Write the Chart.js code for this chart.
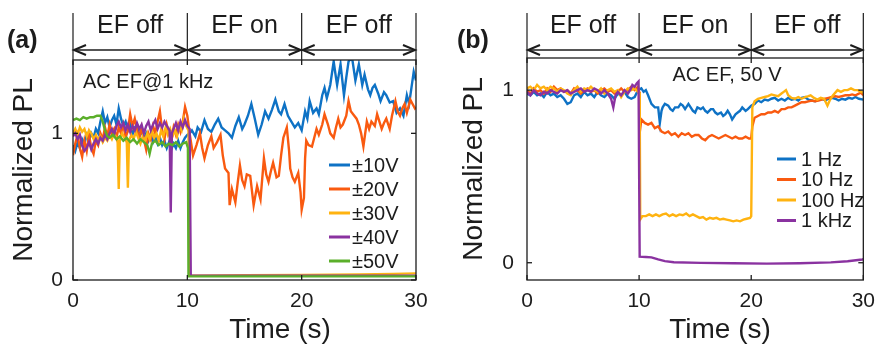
<!DOCTYPE html>
<html>
<head>
<meta charset="utf-8">
<script src="https://cdn.jsdelivr.net/npm/chart.js@4.4.1/dist/chart.umd.min.js"></script>
<style>
  html, body { margin: 0; padding: 0; background: #fff; }
  #wrap { position: relative; width: 884px; height: 350px; overflow: hidden; }
  canvas { position: absolute; top: 0; }
  #chartA { left: 0; }
  #chartB { left: 440px; }
</style>
</head>
<body>
<div id="wrap">
  <canvas id="chartA" width="440" height="350"></canvas>
  <canvas id="chartB" width="444" height="350"></canvas>
</div>
<script>
// shared axes
const timeTicks = [0, 10, 20, 30];
const plTicks = [0, 1];
const phaseLabels = ['EF off', 'EF on', 'EF off'];

// (a) AC field at 1 kHz, amplitude series — [time (s), normalized PL]
const labelsA = ['±10V', '±20V', '±30V', '±40V', '±50V'];
const pl10V = [
  [0,0.92],[0.2,0.88],[0.4,0.94],[0.6,0.9],[0.8,0.96],[1.0,0.93],[1.2,0.99],[1.4,0.95],[1.6,1.0],[1.8,0.97],
  [2.0,1.03],[2.2,1.0],[2.4,1.08],[2.6,1.15],[2.8,1.07],[3.0,1.11],[3.2,1.04],[3.4,1.09],[3.6,1.12],[3.8,1.06],
  [4.0,1.17],[4.2,1.1],[4.4,1.05],[4.6,1.08],[4.8,1.02],[5.0,1.06],[5.2,0.99],[5.4,1.04],[5.6,1.06],[5.8,0.98],
  [6.0,1.02],[6.2,0.96],[6.4,1.0],[6.6,0.95],[6.8,0.99],[7.0,0.94],[7.2,0.98],[7.4,0.93],[7.6,0.97],[7.8,0.92],
  [8.0,0.95],[8.2,0.9],[8.4,0.94],[8.6,0.89],[8.8,0.93],[9.0,0.9],[9.2,0.95],[9.4,0.9],[9.6,0.94],[9.8,0.97],
  [10.0,0.99],[10.2,1.0],[10.4,1.02],[10.7,0.98],[10.9,1.04],[11.2,1.01],[11.5,1.09],[11.8,1.03],[12.1,1.01],[12.4,1.06],
  [12.7,1.1],[13.0,1.04],[13.3,1.02],[13.6,1.0],[13.9,0.97],[14.2,1.05],[14.5,1.11],[14.8,1.03],[15.0,1.06],[15.3,1.12],
  [15.6,1.2],[15.9,1.1],[16.2,0.99],[16.5,1.06],[16.8,1.15],[17.1,1.1],[17.4,1.16],[17.7,1.23],[18.0,1.15],[18.2,1.13],
  [18.5,1.2],[18.8,1.12],[19.1,1.08],[19.4,1.04],[19.7,1.07],[20.0,1.02],[20.3,1.15],[20.5,1.1],[20.7,1.22],[21.0,1.14],
  [21.3,1.17],[21.5,1.13],[21.8,1.26],[22.0,1.31],[22.2,1.24],[22.5,1.33],[22.8,1.49],[23.0,1.38],[23.1,1.33],[23.4,1.47],
  [23.7,1.26],[23.9,1.38],[24.1,1.49],[24.4,1.52],[24.7,1.36],[25.0,1.47],[25.3,1.33],[25.5,1.4],[25.8,1.3],[26.0,1.26],
  [26.2,1.31],[26.4,1.33],[26.7,1.27],[26.9,1.22],[27.2,1.28],[27.4,1.26],[27.7,1.21],[28.0,1.22],[28.3,1.14],[28.6,1.17],
  [28.9,1.12],[29.2,1.26],[29.4,1.2],[29.6,1.31],[29.8,1.42],[30.0,1.36]
];
const pl20V = [
  [0,0.85],[0.2,0.93],[0.4,0.99],[0.6,0.9],[0.8,0.84],[1.0,0.95],[1.2,0.88],[1.4,0.99],[1.6,0.9],[1.8,0.86],
  [2.0,0.95],[2.2,0.92],[2.4,1.0],[2.6,0.96],[2.8,1.04],[3.0,0.98],[3.2,1.06],[3.4,1.0],[3.6,1.03],[3.8,0.97],
  [4.0,1.04],[4.2,1.0],[4.4,1.06],[4.6,0.97],[4.8,1.02],[5.0,1.13],[5.2,1.05],[5.4,1.1],[5.6,1.02],[5.8,0.97],
  [6.0,1.04],[6.2,0.96],[6.4,0.89],[6.6,1.0],[6.8,0.96],[7.0,1.05],[7.2,1.0],[7.4,1.08],[7.6,1.15],[7.8,1.02],
  [8.0,0.96],[8.2,1.06],[8.4,1.0],[8.6,0.95],[8.8,1.04],[9.0,0.99],[9.2,1.06],[9.4,1.01],[9.6,1.08],[9.8,1.18],
  [10.0,1.12],[10.2,1.0],[10.5,0.85],[10.8,0.92],[11.1,1.0],[11.3,0.9],[11.5,0.83],[11.8,0.92],[12.1,0.98],[12.3,0.9],
  [12.6,0.94],[12.9,0.99],[13.1,0.85],[13.3,0.76],[13.6,0.73],[13.7,0.51],[13.9,0.62],[14.2,0.53],[14.4,0.66],[14.6,0.78],
  [14.8,0.68],[15.0,0.64],[15.2,0.72],[15.5,0.71],[15.8,0.51],[16.1,0.64],[16.4,0.55],[16.7,0.83],[16.9,0.72],[17.1,0.67],
  [17.3,0.74],[17.5,0.8],[17.8,0.7],[18.0,0.71],[18.2,0.85],[18.4,0.97],[18.7,1.04],[18.9,0.88],[19.0,0.76],[19.2,0.7],
  [19.4,0.67],[19.7,0.73],[19.9,0.6],[20.0,0.48],[20.2,0.56],[20.3,0.83],[20.4,0.95],[20.6,0.92],[20.9,0.91],[21.1,0.97],
  [21.3,1.03],[21.5,0.99],[21.8,1.06],[22.0,1.13],[22.3,1.06],[22.5,1.0],[22.8,0.97],[23.0,1.04],[23.2,1.1],[23.4,1.04],
  [23.6,1.06],[23.9,1.12],[24.1,1.22],[24.3,1.15],[24.5,1.13],[24.8,1.1],[25.0,1.06],[25.2,1.0],[25.4,0.91],[25.7,1.08],
  [25.9,1.03],[26.1,1.08],[26.4,1.05],[26.6,1.13],[26.8,1.08],[27.0,1.03],[27.2,1.07],[27.4,1.1],[27.7,1.03],[27.9,1.12],
  [28.2,1.22],[28.4,1.15],[28.6,1.12],[28.8,1.17],[29.0,1.2],[29.2,1.14],[29.5,1.23],[29.7,1.2],[29.9,1.17],[30.0,1.18]
];
const pl30V = [
  [0,1.0],[0.2,1.03],[0.4,0.99],[0.6,1.04],[0.8,1.01],[1.0,1.03],[1.2,0.98],[1.4,1.02],[1.6,1.0],[1.8,0.96],
  [2.0,0.99],[2.2,0.95],[2.4,0.98],[2.6,0.94],[2.8,0.97],[3.0,0.95],[3.2,0.99],[3.4,0.96],[3.6,1.0],[3.8,0.97],
  [3.9,0.95],[4.0,0.62],[4.1,0.96],[4.3,1.0],[4.5,0.97],[4.7,0.95],[4.8,0.63],[4.9,0.95],[5.1,0.99],[5.3,0.96],
  [5.5,1.01],[5.7,0.97],[5.9,0.93],[6.1,0.98],[6.3,0.95],[6.5,1.0],[6.7,0.96],[6.9,1.02],[7.1,0.97],[7.3,1.0],
  [7.5,0.95],[7.7,1.02],[7.9,0.98],[8.1,1.04],[8.3,0.99],[8.5,1.03],[8.7,0.98],[8.9,1.02],[9.1,0.98],[9.3,1.05],
  [9.5,1.02],[9.7,1.1],[9.9,1.05],[10.1,1.02],[10.2,0.03],[15,0.032],[20,0.035],[25,0.038],[28,0.042],[30,0.045]
];
const pl40V = [
  [0,0.98],[0.2,1.0],[0.4,0.96],[0.6,0.99],[0.8,0.92],[1.0,0.88],[1.2,0.9],[1.4,0.94],[1.6,0.89],[1.8,0.93],
  [2.0,0.96],[2.2,0.93],[2.4,0.97],[2.6,0.95],[2.8,0.99],[3.0,0.96],[3.2,1.0],[3.4,1.03],[3.6,0.99],[3.8,1.05],
  [4.0,1.08],[4.2,1.04],[4.4,1.07],[4.6,1.02],[4.8,1.06],[5.0,1.01],[5.2,1.05],[5.4,1.02],[5.6,1.07],[5.8,1.03],
  [6.0,1.06],[6.2,1.0],[6.4,1.05],[6.6,1.08],[6.8,1.02],[7.0,1.06],[7.2,1.09],[7.4,1.03],[7.6,1.07],[7.8,1.04],
  [8.0,1.08],[8.2,1.05],[8.45,1.02],[8.55,0.46],[8.65,1.0],[8.8,1.03],[9.0,1.07],[9.2,1.02],[9.4,1.08],[9.6,1.04],
  [9.8,1.09],[10.0,1.05],[10.2,1.03],[10.3,0.03],[30,0.03]
];
const pl50V = [
  [0,1.09],[0.3,1.1],[0.6,1.09],[0.9,1.11],[1.2,1.1],[1.5,1.11],[1.8,1.11],[2.1,1.12],[2.4,1.12],[2.6,1.08],
  [2.8,1.02],[3.0,0.98],[3.2,0.97],[3.5,0.99],[3.8,0.96],[4.1,0.98],[4.4,0.95],[4.7,0.97],[5.0,0.94],[5.3,0.96],
  [5.6,0.93],[5.9,0.96],[6.2,0.94],[6.5,0.92],[6.7,0.86],[6.9,0.93],[7.2,0.95],[7.5,0.92],[7.8,0.94],[8.1,0.91],
  [8.4,0.93],[8.7,0.92],[9.0,0.94],[9.3,0.91],[9.6,0.93],[9.9,0.94],[10.05,0.9],[10.1,0.025],[30,0.025]
];

// (b) AC field at 50 V, frequency series — [time (s), normalized PL]
const labelsB = ['1 Hz', '10 Hz', '100 Hz', '1 kHz'];
const pl1Hz = [
  [0,0.98],[0.3,0.97],[0.6,0.99],[0.9,0.97],[1.2,0.98],[1.5,0.96],[1.8,0.99],[2.1,0.97],[2.4,0.98],[2.7,0.96],
  [3.0,0.97],[3.3,0.95],[3.6,0.92],[3.9,0.93],[4.2,0.97],[4.5,0.98],[4.8,0.96],[5.1,0.99],[5.4,0.97],[5.7,0.98],
  [6.0,0.96],[6.3,0.99],[6.6,0.97],[6.9,0.96],[7.2,0.98],[7.5,0.97],[7.8,0.95],[8.1,0.98],[8.4,0.97],[8.7,0.99],
  [9.0,0.96],[9.3,0.95],[9.6,0.96],[9.9,1.0],[10.2,1.01],[10.4,0.99],[10.6,1.0],[10.8,0.97],[11.1,0.92],[11.4,0.9],
  [11.7,0.9],[11.85,0.81],[12.0,0.88],[12.1,0.9],[12.3,0.92],[12.6,0.91],[12.8,0.89],[13.0,0.88],[13.2,0.9],[13.5,0.9],
  [13.7,0.92],[13.9,0.91],[14.1,0.89],[14.4,0.92],[14.6,0.9],[14.8,0.88],[15.0,0.87],[15.2,0.9],[15.5,0.89],[15.7,0.9],
  [15.9,0.88],[16.1,0.87],[16.4,0.89],[16.6,0.89],[16.8,0.87],[17.0,0.86],[17.3,0.87],[17.5,0.85],[17.7,0.86],[17.9,0.88],
  [18.1,0.86],[18.3,0.83],[18.6,0.86],[18.8,0.87],[19.0,0.88],[19.2,0.9],[19.5,0.88],[19.7,0.89],[20.0,0.91],[20.3,0.92],
  [20.6,0.94],[20.9,0.93],[21.2,0.945],[21.5,0.94],[21.8,0.95],[22.1,0.955],[22.4,0.94],[22.7,0.95],[23.0,0.94],[23.3,0.955],
  [23.6,0.945],[23.9,0.95],[24.2,0.94],[24.5,0.955],[24.8,0.96],[25.1,0.945],[25.4,0.94],[25.7,0.935],[26.0,0.945],[26.3,0.95],
  [26.6,0.94],[26.9,0.95],[27.2,0.955],[27.5,0.95],[27.8,0.94],[28.1,0.95],[28.4,0.945],[28.7,0.955],[29.0,0.95],[29.3,0.96],
  [29.6,0.95],[30.0,0.945]
];
const pl10Hz = [
  [0,1.0],[0.3,0.98],[0.6,1.01],[0.9,0.99],[1.2,1.0],[1.5,0.98],[1.8,1.01],[2.1,0.99],[2.4,1.02],[2.7,1.0],
  [3.0,1.01],[3.3,0.99],[3.6,1.0],[3.9,0.98],[4.2,1.01],[4.5,1.0],[4.8,0.98],[5.1,1.0],[5.4,1.01],[5.7,0.99],
  [6.0,1.0],[6.3,0.98],[6.6,1.0],[6.9,1.01],[7.2,0.99],[7.5,1.0],[7.8,0.98],[8.1,0.99],[8.4,1.01],[8.7,0.99],
  [9.0,1.0],[9.3,1.02],[9.6,1.0],[9.9,1.02],[10.0,0.99],[10.05,0.75],[10.2,0.83],[10.5,0.81],[10.8,0.8],[11.1,0.81],
  [11.4,0.78],[11.7,0.79],[12.0,0.76],[12.3,0.75],[12.6,0.76],[12.9,0.74],[13.2,0.75],[13.5,0.73],[13.8,0.75],[14.1,0.74],
  [14.4,0.75],[14.7,0.73],[15.0,0.74],[15.3,0.74],[15.6,0.72],[15.9,0.71],[16.2,0.73],[16.5,0.74],[16.8,0.73],[17.1,0.72],
  [17.4,0.73],[17.7,0.74],[18.0,0.73],[18.3,0.72],[18.6,0.73],[18.9,0.72],[19.2,0.72],[19.5,0.73],[19.8,0.72],[20.0,0.72],
  [20.1,0.79],[20.3,0.84],[20.6,0.85],[20.9,0.86],[21.2,0.86],[21.5,0.87],[21.8,0.87],[22.1,0.88],[22.4,0.87],[22.7,0.89],
  [23.0,0.89],[23.3,0.9],[23.6,0.9],[23.9,0.91],[24.2,0.92],[24.5,0.93],[24.8,0.93],[25.1,0.935],[25.4,0.94],[25.7,0.935],
  [26.0,0.94],[26.3,0.945],[26.6,0.95],[26.9,0.955],[27.2,0.96],[27.5,0.965],[27.8,0.96],[28.1,0.965],[28.4,0.97],[28.7,0.97],
  [29.0,0.975],[29.3,0.97],[29.6,0.98],[29.8,0.985],[30.0,0.97]
];
const pl100Hz = [
  [0,1.01],[0.3,1.02],[0.6,1.0],[0.9,1.03],[1.2,1.01],[1.5,1.02],[1.8,1.0],[2.1,1.02],[2.4,1.01],[2.7,0.99],
  [3.0,1.01],[3.3,1.0],[3.6,0.98],[3.9,0.97],[4.2,1.0],[4.5,1.02],[4.8,0.99],[5.1,1.01],[5.4,1.0],[5.7,1.02],
  [6.0,1.0],[6.3,0.99],[6.6,1.01],[6.9,0.98],[7.2,1.0],[7.5,1.01],[7.8,0.99],[8.1,1.0],[8.4,0.96],[8.7,0.99],
  [9.0,1.01],[9.3,1.0],[9.6,1.01],[9.9,0.99],[10.05,0.98],[10.1,0.25],[10.3,0.27],[10.6,0.27],[10.9,0.28],[11.2,0.27],
  [11.5,0.28],[11.8,0.27],[12.1,0.28],[12.4,0.285],[12.7,0.27],[13.0,0.28],[13.3,0.27],[13.6,0.28],[13.9,0.275],[14.2,0.285],
  [14.5,0.27],[14.8,0.28],[15.1,0.27],[15.4,0.26],[15.7,0.265],[16.0,0.25],[16.3,0.26],[16.6,0.255],[16.9,0.26],[17.2,0.25],
  [17.5,0.255],[17.8,0.25],[18.1,0.245],[18.4,0.24],[18.7,0.245],[19.0,0.24],[19.3,0.25],[19.6,0.255],[19.9,0.26],[20.0,0.27],
  [20.1,0.9],[20.3,0.935],[20.6,0.95],[20.9,0.955],[21.2,0.96],[21.5,0.965],[21.8,0.975],[22.1,0.97],[22.4,0.965],[22.7,0.98],
  [22.9,0.99],[23.1,1.0],[23.3,0.97],[23.6,0.955],[23.9,0.95],[24.2,0.96],[24.5,0.95],[24.8,0.96],[25.1,0.965],[25.3,0.97],
  [25.6,0.955],[25.9,0.945],[26.2,0.955],[26.5,0.95],[26.8,0.91],[27.0,0.94],[27.3,0.97],[27.7,1.0],[28.0,0.99],[28.3,1.0],
  [28.6,1.0],[28.9,1.01],[29.2,1.0],[29.5,1.0],[29.8,0.99],[30.0,0.985]
];
const pl1kHz = [
  [0,0.99],[0.3,0.97],[0.6,1.0],[0.9,0.98],[1.2,0.97],[1.5,0.99],[1.8,0.98],[2.1,1.0],[2.4,0.99],[2.7,0.98],
  [3.0,1.0],[3.3,0.99],[3.6,1.0],[3.9,0.98],[4.2,0.99],[4.5,1.0],[4.8,1.01],[5.1,0.99],[5.4,1.0],[5.7,0.99],
  [6.0,1.01],[6.3,1.0],[6.6,0.98],[6.9,1.0],[7.2,0.98],[7.5,0.95],[7.7,0.9],[7.9,0.97],[8.1,0.99],[8.4,0.97],
  [8.7,1.0],[9.0,0.98],[9.2,1.0],[9.4,1.03],[9.6,1.02],[9.8,1.04],[9.95,1.05],[10.05,0.035],[10.6,0.033],[11.1,0.031],
  [11.7,0.019],[12.3,0.009],[13.1,0.003],[15.5,-0.001],[18.4,-0.003],[21.4,-0.005],[24.3,-0.003],[27.1,0.002],[28.6,0.009],[29.9,0.019],
  [30,0.02]
];

const colors = ['#0E72C5', '#F95A10', '#FFB310', '#8A32A0', '#5BAF2A'];
const FONT = "'Liberation Sans', Arial, sans-serif";
const INK = '#1c1c1c';

function strokeLine(ctx, x0, y0, x1, y1) {
  ctx.beginPath();
  ctx.moveTo(x0, y0);
  ctx.lineTo(x1, y1);
  ctx.stroke();
}

// frame, inward ticks, phase arrows, titles and legend
const panelDecor = {
  id: 'panelDecor',
  afterDatasetsDraw(chart, args, o) {
    const { ctx, chartArea: a, scales: { x, y } } = chart;
    ctx.save();
    ctx.strokeStyle = INK;
    ctx.fillStyle = INK;

    ctx.lineWidth = 1.3;
    ctx.strokeRect(a.left, a.top, a.right - a.left, a.bottom - a.top);
    timeTicks.forEach((v) => {
      const px = x.getPixelForValue(v);
      strokeLine(ctx, px, a.bottom, px, a.bottom - 5);
      strokeLine(ctx, px, a.top, px, a.top + 5);
    });
    plTicks.forEach((v) => {
      const py = y.getPixelForValue(v);
      strokeLine(ctx, a.left, py, a.left + 5, py);
      strokeLine(ctx, a.right, py, a.right - 5, py);
    });

    // EF on / off phases above the plot
    ctx.lineWidth = 1.2;
    const bounds = timeTicks.map((v) => x.getPixelForValue(v));
    bounds.forEach((px) => strokeLine(ctx, px, 13, px, a.top));
    ctx.font = `25px ${FONT}`;
    ctx.textAlign = 'center';
    ctx.textBaseline = 'alphabetic';
    const ay = 50;
    for (let i = 0; i < bounds.length - 1; i++) {
      const x0 = bounds[i] + 1;
      const x1 = bounds[i + 1] - 1;
      ctx.lineWidth = 1.6;
      strokeLine(ctx, x0, ay, x1, ay);
      ctx.lineWidth = 2;
      ctx.beginPath();
      ctx.moveTo(x0 + 12, ay - 5);
      ctx.lineTo(x0, ay);
      ctx.lineTo(x0 + 12, ay + 5);
      ctx.moveTo(x1 - 12, ay - 5);
      ctx.lineTo(x1, ay);
      ctx.lineTo(x1 - 12, ay + 5);
      ctx.stroke();
      ctx.fillText(phaseLabels[i], (bounds[i] + bounds[i + 1]) / 2, 33);
    }

    // panel letter
    ctx.font = `bold 25px ${FONT}`;
    ctx.textAlign = 'left';
    ctx.textBaseline = 'middle';
    ctx.fillText(o.letter, o.letterX, 41);

    // axis titles
    ctx.font = `28px ${FONT}`;
    ctx.textAlign = 'center';
    ctx.fillText('Time (s)', o.xTitleX, 330);
    ctx.save();
    ctx.translate(o.yTitleX, (a.top + a.bottom) / 2);
    ctx.rotate(-Math.PI / 2);
    ctx.fillText('Normalized PL', 0, 0);
    ctx.restore();

    // condition note
    ctx.font = `20px ${FONT}`;
    ctx.textAlign = o.noteAlign;
    ctx.fillText(o.note, o.noteX, o.noteY);

    // legend
    ctx.textAlign = 'left';
    ctx.lineWidth = 3;
    o.labels.forEach((label, i) => {
      const ly = o.legendY + i * o.legendStep;
      ctx.strokeStyle = colors[i];
      strokeLine(ctx, o.legendX, ly, o.legendX + o.legendLen, ly);
      ctx.fillStyle = INK;
      ctx.fillText(label, o.legendX + o.legendLen + o.legendGap, ly + 1);
    });
    ctx.restore();
  },
};

function makePanel(canvasId, series, o) {
  const datasets = series.map((pts, i) => ({
    label: o.labels[i],
    data: pts.map(([t, v]) => ({ x: t, y: v })),
    borderColor: colors[i],
    borderWidth: 2.4,
    pointRadius: 0,
    tension: 0,
    fill: false,
    order: series.length - i, // later series sit on top
  }));
  return new Chart(document.getElementById(canvasId), {
    type: 'line',
    data: { datasets },
    options: {
      responsive: false,
      animation: false,
      events: [],
      layout: { padding: { top: o.top, right: o.right, left: 0, bottom: 0 } },
      plugins: {
        legend: { display: false },
        tooltip: { enabled: false },
        panelDecor: o,
      },
      scales: {
        x: {
          type: 'linear',
          min: 0,
          max: 30,
          afterBuildTicks: (s) => { s.ticks = timeTicks.map((v) => ({ value: v })); },
          afterFit: (s) => { s.height = 70; },
          grid: { display: false, drawTicks: false },
          border: { display: false },
          ticks: { font: { family: FONT, size: 21 }, color: INK, padding: 9, maxRotation: 0 },
        },
        y: {
          type: 'linear',
          min: o.yMin,
          max: o.yMax,
          afterBuildTicks: (s) => { s.ticks = plTicks.map((v) => ({ value: v })); },
          afterFit: (s) => { s.width = o.leftSpace; },
          grid: { display: false, drawTicks: false },
          border: { display: false },
          ticks: { font: { family: FONT, size: 21 }, color: INK, padding: o.yTickPad },
        },
      },
    },
    plugins: [panelDecor],
  });
}

makePanel('chartA', [pl10V, pl20V, pl30V, pl40V, pl50V], {
  labels: labelsA,
  top: 60, right: 24, leftSpace: 73, yTickPad: 10,
  yMin: 0, yMax: 1.5,
  letter: '(a)', letterX: 7,
  xTitleX: 280, yTitleX: 24,
  note: 'AC EF@1 kHz', noteAlign: 'left', noteX: 83, noteY: 82,
  legendX: 329, legendLen: 21, legendGap: 2, legendY: 165, legendStep: 24,
});

makePanel('chartB', [pl1Hz, pl10Hz, pl100Hz, pl1kHz], {
  labels: labelsB,
  top: 58, right: 18, leftSpace: 87, yTickPad: 13,
  yMin: -0.1, yMax: 1.186,
  letter: '(b)', letterX: 17,
  xTitleX: 280, yTitleX: 34,
  note: 'AC EF, 50 V', noteAlign: 'center', noteX: 287, noteY: 75,
  legendX: 337, legendLen: 19, legendGap: 5, legendY: 159, legendStep: 20.5,
});
</script>
</body>
</html>
